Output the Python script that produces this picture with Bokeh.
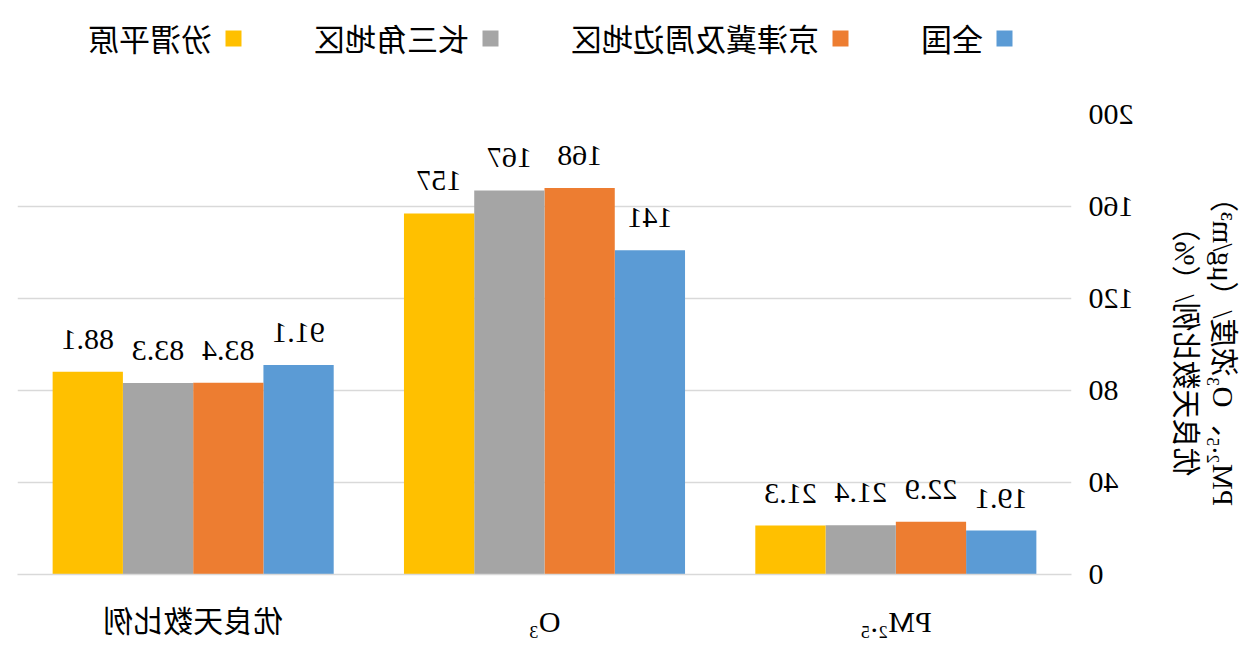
from bokeh.plotting import figure
from bokeh.layouts import column
from bokeh.models import ColumnDataSource, FactorRange, Range1d, FixedTicker, Legend, LegendItem, LabelSet
from bokeh.transform import dodge
from bokeh.embed import file_html
from bokeh.resources import INLINE

# data (categories as in the unmirrored chart, left to right)
categories = ["PM₂.₅", "O₃", "优良天数比例"]
regions = ["全国", "京津冀及周边地区", "长三角地区", "汾渭平原"]
quanguo = [19.1, 141, 91.1]
jingjinji = [22.9, 168, 83.4]
changsanjiao = [21.4, 167, 83.3]
fenwei = [21.3, 157, 88.1]
colors = ["#5B9BD5", "#ED7D31", "#A5A5A5", "#FFC000"]
y_ticks = [0, 40, 80, 120, 160, 200]

FONT = "'Liberation Serif', 'Noto Sans CJK SC'"

src = ColumnDataSource(data=dict(
    cat=categories,
    quanguo=quanguo,
    jingjinji=jingjinji,
    changsanjiao=changsanjiao,
    fenwei=fenwei,
    quanguo_t=[f"{v:g}" for v in quanguo],
    jingjinji_t=[f"{v:g}" for v in jingjinji],
    changsanjiao_t=[f"{v:g}" for v in changsanjiao],
    fenwei_t=[f"{v:g}" for v in fenwei],
))
cols = ["quanguo", "jingjinji", "changsanjiao", "fenwei"]
offsets = [-0.3, -0.1, 0.1, 0.3]

# legend strip on top (its bars sit outside the visible y range, only the legend shows)
leg = figure(width=1243, height=80, x_axis_type=None, y_axis_type=None,
             x_range=FactorRange(*categories, range_padding=0), y_range=Range1d(1000, 1001),
             output_backend="svg", toolbar_location=None, min_border=0)
leg.outline_line_color = None
items = []
for col, color, name in zip(cols, colors, regions):
    r = leg.vbar(x="cat", top=col, width=0.2, source=src, fill_color=color, line_color=None)
    items.append(LegendItem(label=name, renderers=[r]))
legend = Legend(items=items, orientation="horizontal", location=(57, 20))
legend.label_text_font = FONT
legend.label_text_font_size = "31px"
legend.label_text_color = "black"
legend.glyph_width = 20
legend.glyph_height = 20
legend.label_standoff = 12
legend.spacing = 70
legend.padding = 0
legend.margin = 0
legend.border_line_color = None
legend.background_fill_alpha = 0
leg.add_layout(legend, "center")

# main chart
p = figure(x_range=FactorRange(*categories, range_padding=0), y_range=Range1d(0, 200),
           width=1243, height=560, output_backend="svg", toolbar_location=None,
           min_border_left=171, min_border_right=18, min_border_top=34, min_border_bottom=66)
p.outline_line_color = None

for col, off, color in zip(cols, offsets, colors):
    p.vbar(x=dodge("cat", off, range=p.x_range), top=col, width=0.2, source=src,
           fill_color=color, line_color=None)
    labels = LabelSet(x=dodge("cat", off, range=p.x_range), y=col, text=col + "_t", source=src,
                      y_offset=23, text_align="center", text_baseline="bottom",
                      text_font=FONT, text_font_size="30px", text_color="black")
    p.add_layout(labels)

p.xgrid.grid_line_color = None
p.ygrid.grid_line_color = "#D9D9D9"
p.ygrid.grid_line_width = 1.5
p.ygrid.ticker = FixedTicker(ticks=y_ticks)

p.yaxis.ticker = FixedTicker(ticks=y_ticks)
p.yaxis.axis_line_color = None
p.yaxis.major_tick_line_color = None
p.yaxis.minor_tick_line_color = None
p.yaxis.major_label_standoff = 11
p.yaxis.major_label_text_font = FONT
p.yaxis.major_label_text_font_size = "30px"
p.yaxis.major_label_text_color = "black"
p.yaxis.axis_label = "PM₂.₅、O₃浓度/（μg/m³）\n优良天数比例/（%）"
p.yaxis.axis_label_text_font = FONT
p.yaxis.axis_label_text_font_size = "29px"
p.yaxis.axis_label_text_font_style = "normal"
p.yaxis.axis_label_text_color = "black"
p.yaxis.axis_label_standoff = 32

p.xaxis.axis_line_color = "#D9D9D9"
p.xaxis.axis_line_width = 1.5
p.xaxis.major_tick_line_color = None
p.xaxis.minor_tick_line_color = None
p.xaxis.major_label_standoff = 24
p.xaxis.major_label_text_font = FONT
p.xaxis.major_label_text_font_size = "30px"
p.xaxis.major_label_text_color = "black"

page = column(leg, p, spacing=0)
# the reference picture is a horizontal mirror image of the chart
page.styles = {"transform": "scaleX(-1)"}

open("out.html", "w").write(file_html(page, INLINE))
